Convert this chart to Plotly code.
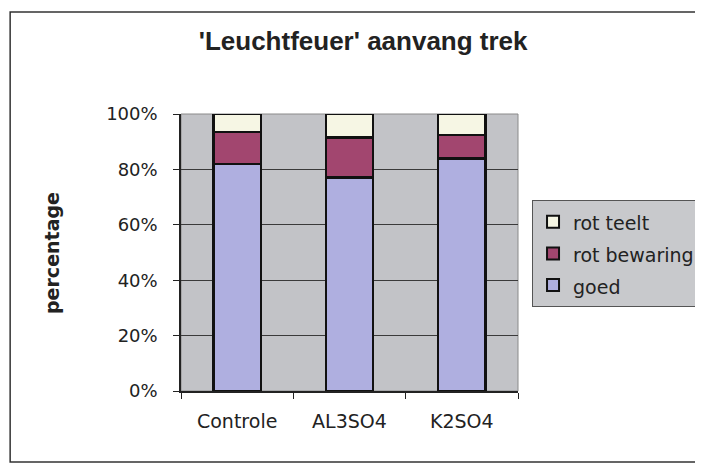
import plotly.graph_objects as go

categories = ["Controle", "AL3SO4", "K2SO4"]
goed = [0.82, 0.77, 0.84]
rot_bewaring = [0.115, 0.145, 0.085]
rot_teelt = [0.065, 0.085, 0.075]

series = [
    ("goed", goed, "#afafe0"),
    ("rot bewaring", rot_bewaring, "#a2466f"),
    ("rot teelt", rot_teelt, "#f6f6e4"),
]

# the page body has an 8px margin, so the figure is a bit smaller than the window
W, H = 695, 456

fig = go.Figure()
for name, values, color in series:
    fig.add_trace(
        go.Bar(
            x=categories,
            y=values,
            name=f"<span style='font-size:19px'>{name}</span>",
            marker=dict(color=color, line=dict(color="#111111", width=2.5)),
            width=0.42,
        )
    )

fig.update_layout(
    width=W,
    height=H,
    barmode="stack",
    paper_bgcolor="white",
    plot_bgcolor="#c2c3c7",
    margin=dict(l=173, r=185, t=106, b=73, autoexpand=False),
    font=dict(family="Liberation Sans, Arial, sans-serif", color="#222222"),
    title=dict(
        text="<b>'Leuchtfeuer' aanvang trek</b>",
        x=0.511,
        xanchor="center",
        y=0.928,
        yanchor="middle",
        font=dict(size=26, family="Liberation Sans, Arial, sans-serif"),
    ),
    legend=dict(
        xref="container",
        yref="container",
        x=0.754,
        y=0.579,
        xanchor="left",
        yanchor="top",
        traceorder="reversed",
        bgcolor="#c8c9cc",
        bordercolor="#555555",
        borderwidth=1,
        font=dict(size=22, family="DejaVu Sans, sans-serif", color="#222222"),
        itemsizing="constant",
        itemwidth=30,
    ),
    xaxis=dict(
        type="category",
        showline=True,
        linecolor="#222222",
        linewidth=1.5,
        ticks="outside",
        tickson="boundaries",
        ticklen=6,
        tickcolor="#222222",
        ticklabelstandoff=12,
        tickfont=dict(size=19, family="DejaVu Sans, sans-serif"),
        showgrid=False,
    ),
    yaxis=dict(
        range=[0, 1],
        dtick=0.2,
        tickformat=".0%",
        showline=True,
        linecolor="#222222",
        linewidth=1.5,
        ticks="outside",
        ticklen=6,
        tickcolor="#222222",
        ticklabelstandoff=12,
        tickfont=dict(size=18, family="DejaVu Sans, sans-serif"),
        showgrid=True,
        gridcolor="#3a3a3a",
        gridwidth=1,
        zeroline=False,
    ),
    shapes=[
        dict(
            type="rect", xref="paper", yref="paper",
            x0=0, x1=1, y0=0, y1=1,
            line=dict(color="#8a8a8a", width=1), layer="below",
        ),
        dict(
            type="rect", xref="paper", yref="paper",
            x0=-0.507, x1=1.546, y0=-0.256, y1=1.368,
            line=dict(color="#333333", width=1.5),
        ),
    ],
    annotations=[
        dict(
            text="<b>percentage</b>",
            xref="paper", yref="paper",
            x=-0.383, y=0.498,
            xanchor="center", yanchor="middle",
            textangle=-90,
            showarrow=False,
            font=dict(size=19, family="DejaVu Sans, sans-serif", color="#222222"),
        )
    ],
)

fig.write_html("out.html")
